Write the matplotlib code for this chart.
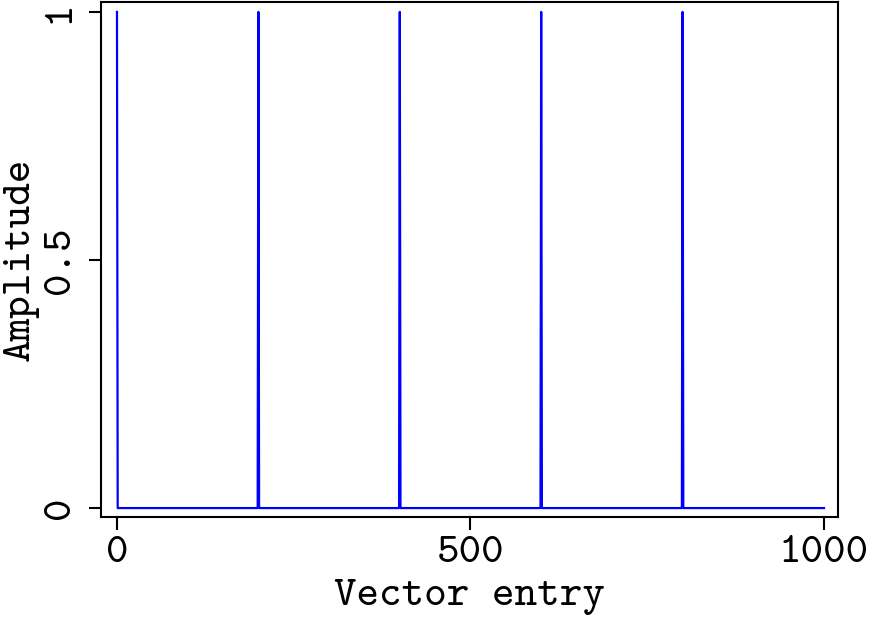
import numpy as np
import matplotlib.pyplot as plt

# spike train: unit spikes every 200 entries
n_entries = 1001
spike_pos = [0, 200, 400, 600, 800]
spike_amp = [1, 1, 1, 1, 1]

x = np.arange(n_entries)
y = np.zeros(n_entries)
y[spike_pos] = spike_amp

plt.rcParams['font.family'] = ['cmtt10', 'DejaVu Sans']
plt.rcParams['axes.unicode_minus'] = False

fig = plt.figure(figsize=(8.75, 6.24), dpi=100)
ax = fig.add_axes([101 / 875, 107 / 624, 737 / 875, 515 / 624])
ax.plot(x, y, color='#0000ff', lw=1.6)

ax.set_xlim(-22.6, 1019.8)
ax.set_ylim(-0.018, 1.02)
ax.set_xticks([0, 500, 1000])
ax.set_yticks([0, 0.5, 1])
ax.set_yticklabels(['0', '0.5', '1'], rotation=90, va='center')
ax.tick_params(direction='out', length=9, width=1.5, labelsize=31)
ax.tick_params(axis='x', pad=5)
ax.tick_params(axis='y', pad=7)
ax.tick_params(top=False, right=False)
for s in ax.spines.values():
    s.set_linewidth(1.5)

ax.set_xlabel('Vector entry', fontsize=31, labelpad=5)
ax.set_ylabel('Amplitude', fontsize=31, labelpad=3)

fig.savefig('out.png', dpi=100)
